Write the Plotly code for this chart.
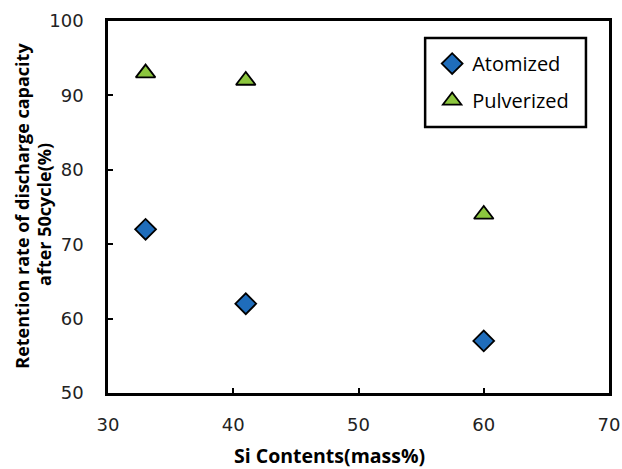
import plotly.graph_objects as go

si_atomized = [33, 41, 60]
ret_atomized = [72, 62, 57]
si_pulverized = [33, 41, 60]
ret_pulverized = [93, 92, 74]

x_ticks = [30, 40, 50, 60, 70]
y_ticks = [50, 60, 70, 80, 90, 100]

fig = go.Figure()
fig.add_trace(go.Scatter(
    x=si_atomized, y=ret_atomized, mode="markers", name="Atomized",
    legendgroup="a",
    marker=dict(symbol="diamond", size=16, color="#1F6DBB",
                line=dict(color="black", width=1.8)),
))
fig.add_trace(go.Scatter(
    x=si_pulverized, y=ret_pulverized, mode="markers", name="Pulverized",
    legendgroup="p",
    marker=dict(symbol="triangle-up", size=17, color="#8CC63E",
                line=dict(color="black", width=1.8)),
))

axis_common = dict(
    showline=True, linecolor="black", linewidth=2.5, mirror=True,
    ticks="inside", ticklen=5, tickwidth=2, tickcolor="black",
    showgrid=False, zeroline=False, automargin=False,
    tickfont=dict(family="DejaVu Sans", size=18, color="#222"),
)

fig.update_xaxes(range=[30, 70], tickvals=x_ticks, ticklabelstandoff=14, **axis_common)
fig.update_yaxes(range=[50, 100], tickvals=y_ticks, ticklabelstandoff=18, **axis_common)

fig.add_annotation(
    text="<b>Si Contents(mass%)</b>", xref="paper", yref="paper",
    x=0.443, y=-0.1667, xanchor="center", yanchor="middle", showarrow=False,
    font=dict(family="Open Sans", size=19.5, color="black"),
)
fig.add_annotation(
    text="<b>Retention rate of discharge capacity</b>",
    xref="paper", yref="paper", x=-0.172, y=0.503, xanchor="center", yanchor="middle",
    textangle=-90, showarrow=False,
    font=dict(family="Open Sans", size=18, color="black"),
)
fig.add_annotation(
    text="<b>after 50cycle(%)</b>",
    xref="paper", yref="paper", x=-0.128, y=0.481, xanchor="center", yanchor="middle",
    textangle=-90, showarrow=False,
    font=dict(family="Open Sans", size=18, color="black"),
)

# legend frame
fig.add_shape(type="rect", xref="paper", yref="paper",
              x0=0.633, x1=0.954, y0=0.715, y1=0.954,
              line=dict(color="black", width=2.5), fillcolor="rgba(0,0,0,0)")

fig.update_layout(
    width=622, height=469,
    margin=dict(l=108, r=13, t=21, b=76),
    paper_bgcolor="white", plot_bgcolor="white",
    legend=dict(x=0.647, y=0.938, xanchor="left", yanchor="top",
                borderwidth=0, bgcolor="rgba(0,0,0,0)",
                font=dict(family="Open Sans", size=20, color="black"),
                tracegroupgap=8, itemwidth=30),
    showlegend=True,
)

fig.write_html("out.html", config={"displayModeBar": False},
               post_script="document.body.style.margin='0';")
